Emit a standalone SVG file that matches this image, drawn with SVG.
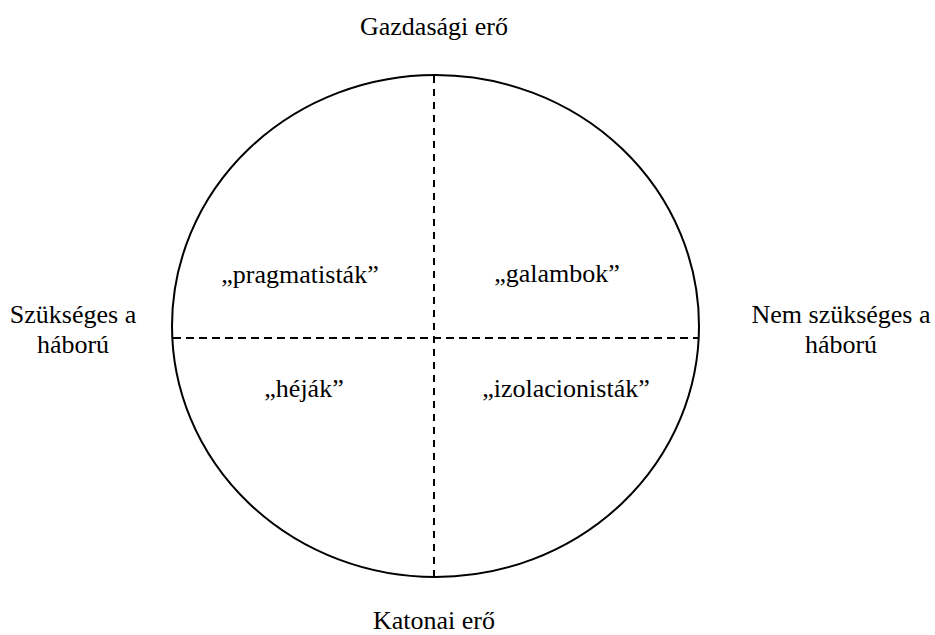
<svg xmlns="http://www.w3.org/2000/svg" width="935" height="635" viewBox="0 0 935 635">
<style>
text{font-family:'Liberation Serif','Times New Roman','DejaVu Serif',serif;font-size:26px;fill:#000;text-anchor:middle}
.axis{stroke:#000;stroke-width:2;fill:none}
.dash{stroke:#000;stroke-width:2;stroke-dasharray:8 5;fill:none}
</style>
<rect width="935" height="635" fill="#fff"/>
<g id="circle"><ellipse class="axis" cx="435.5" cy="326" rx="263.5" ry="251"/></g>
<g id="connectors">
<line class="dash" x1="173" y1="338" x2="698" y2="338"/>
<line class="dash" x1="434" y1="76" x2="434" y2="576" style="stroke-dasharray:7 6"/>
</g>
<g id="top"><text x="434" y="35">Gazdasági erő</text></g>
<g id="bottom"><text x="434" y="629">Katonai erő</text></g>
<g id="left"><text x="73" y="323">Szükséges a</text><text x="73" y="353">háború</text></g>
<g id="right"><text x="841" y="323">Nem szükséges a</text><text x="841" y="353">háború</text></g>
<g id="pragmatistak"><text x="300" y="283">„pragmatisták”</text></g>
<g id="galambok"><text x="557" y="282">„galambok”</text></g>
<g id="hejak"><text x="304" y="397">„héják”</text></g>
<g id="izolacionistak"><text x="566" y="397">„izolacionisták”</text></g>
</svg>
